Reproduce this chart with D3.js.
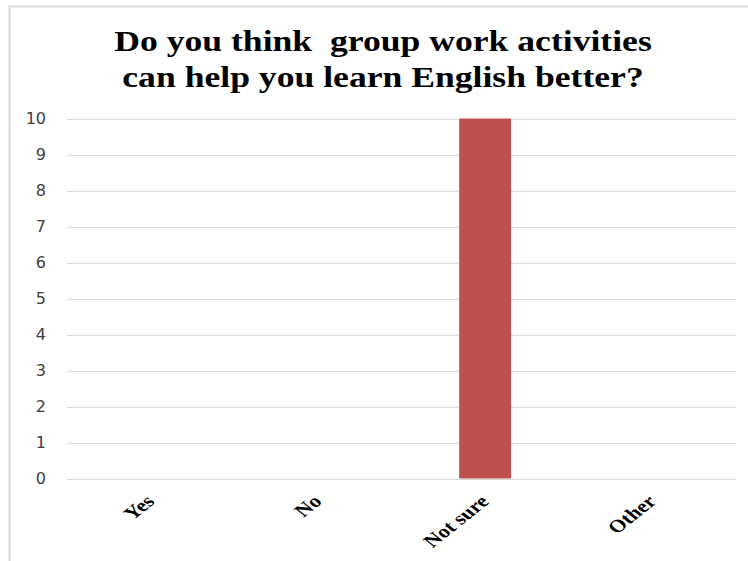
<!DOCTYPE html>
<html>
<head>
<meta charset="utf-8">
<script src="https://cdn.jsdelivr.net/npm/d3@7"></script>
<style>
  html, body { margin: 0; padding: 0; background: #fff; }
  svg { display: block; }
</style>
</head>
<body>
<svg id="chart" width="748" height="561"></svg>
<script>
// Survey answers and response counts
const categories = ["Yes", "No", "Not sure", "Other"];
const counts = [0, 0, 10, 0];
const yTicks = [0, 1, 2, 3, 4, 5, 6, 7, 8, 9, 10];
const titleLines = ["Do you think  group work activities", "can help you learn English better?"];

const svg = d3.select("#chart");

// serif text in this chart is drawn slightly widened
const serifStretch = 1.25;

// chart frame
svg.append("rect")
  .attr("x", 9.5).attr("y", 6.5)
  .attr("width", 760).attr("height", 600)
  .attr("fill", "#fff")
  .attr("stroke", "#d9d9d9")
  .attr("stroke-width", 2);

const plot = { left: 67, right: 736, top: 118.5, bottom: 478.5 };

const x = d3.scaleBand()
  .domain(categories)
  .range([plot.left, plot.right])
  .paddingInner(0.69)
  .paddingOuter(0.345);

const y = d3.scaleLinear()
  .domain([0, 10])
  .range([plot.bottom, plot.top]);

// horizontal gridlines
svg.append("g")
  .selectAll("line")
  .data(yTicks)
  .join("line")
  .attr("x1", plot.left).attr("x2", plot.right)
  .attr("y1", d => Math.round(y(d)) + 0.5)
  .attr("y2", d => Math.round(y(d)) + 0.5)
  .attr("stroke", "#d9d9d9")
  .attr("stroke-width", 1);

// y tick labels
svg.append("g")
  .selectAll("text")
  .data(yTicks)
  .join("text")
  .attr("x", 46)
  .attr("y", d => y(d))
  .attr("dy", "0.36em")
  .attr("text-anchor", "end")
  .attr("font-family", "DejaVu Sans, Verdana, sans-serif")
  .attr("font-size", 16)
  .attr("fill", "#404040")
  .text(d => d);

// bars
svg.append("g")
  .selectAll("rect")
  .data(categories.map((c, i) => ({ c, v: counts[i] })))
  .join("rect")
  .attr("x", d => x(d.c))
  .attr("width", x.bandwidth())
  .attr("y", d => y(d.v))
  .attr("height", d => y(0) - y(d.v))
  .attr("fill", "#c0504d");

// rotated category labels
svg.append("g")
  .selectAll("text")
  .data(categories)
  .join("text")
  .attr("text-anchor", "end")
  .attr("transform", d => `translate(${x(d) + x.bandwidth() / 2 + 5},${plot.bottom + 24}) scale(${serifStretch},1) rotate(-45)`)
  .attr("font-family", "Liberation Serif, Times New Roman, serif")
  .attr("font-weight", "bold")
  .attr("font-size", 18)
  .attr("fill", "#000")
  .text(d => d);

// title
const title = svg.append("text")
  .attr("transform", `translate(383,0) scale(${serifStretch},1)`)
  .attr("text-anchor", "middle")
  .attr("font-family", "Liberation Serif, Times New Roman, serif")
  .attr("font-weight", "bold")
  .attr("font-size", 28.5)
  .attr("fill", "#000")
  .attr("xml:space", "preserve");
title.selectAll("tspan")
  .data(titleLines)
  .join("tspan")
  .attr("x", 0)
  .attr("y", (d, i) => 51.5 + i * 35.5)
  .text(d => d);
</script>
</body>
</html>
